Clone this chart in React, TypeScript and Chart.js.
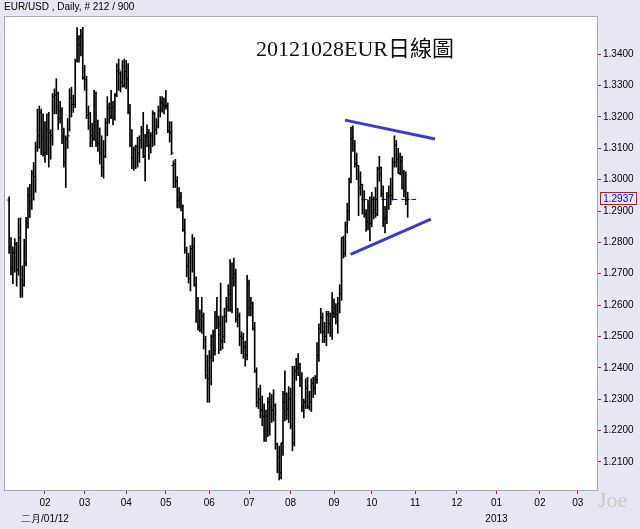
import React, { useEffect, useRef } from 'react';
import { Chart, registerables } from 'chart.js';

Chart.register(...registerables);

// ---- data: EUR/USD daily bars, 5 Jan 2012 .. 26 Oct 2012 (weekday index 0..211) ----
const opens = [
  1.2935,1.2786,1.2717,1.2766,1.2795,1.2712,1.2815,1.2680,1.2665,1.2735,1.2860,1.2950,1.2930,1.3020,1.3010,1.3105,1.3140,1.3215,1.3135,
  1.3085,1.3160,1.3160,1.3150,1.3140,1.3265,1.3270,1.3275,1.3195,1.3220,1.3135,1.3055,1.3130,1.3160,1.3260,1.3240,1.3240,1.3380,1.3450,1.3430,1.3460,
  1.3325,1.3320,1.3205,1.3210,1.3140,1.3130,1.3275,1.3120,1.3115,1.3085,1.3040,1.3075,1.3180,1.3230,1.3200,1.3230,1.3195,1.3270,1.3345,1.3340,1.3310,1.3300,
  1.3345,1.3320,1.3215,1.3110,1.3070,1.3095,1.3105,1.3085,1.3125,1.3160,1.3075,1.3140,1.3150,1.3110,1.3140,1.3210,1.3160,1.3170,1.3220,1.3245,1.3240,
  1.3235,1.3235,1.3155,1.3150,1.3045,1.3050,1.2995,1.2935,1.2945,1.2915,1.2840,1.2775,1.2725,1.2685,1.2780,1.2785,1.2665,1.2580,1.2530,1.2520,1.2565,1.2490,1.2375,
  1.2365,1.2435,1.2500,1.2455,1.2560,1.2560,1.2540,1.2485,1.2500,1.2565,1.2595,1.2635,1.2585,1.2685,1.2700,1.2555,1.2565,1.2500,1.2495,1.2465,1.2440,
  1.2665,1.2590,1.2605,1.2525,1.2390,1.2290,1.2300,1.2265,1.2245,1.2200,1.2245,1.2290,1.2275,1.2265,1.2280,1.2155,1.2115,1.2065,1.2160,1.2290,1.2315,1.2270,
  1.2300,1.2215,1.2160,1.2390,1.2400,1.2410,1.2365,1.2275,1.2290,1.2335,1.2275,1.2290,1.2350,1.2335,1.2360,1.2440,1.2525,1.2560,1.2515,1.2500,1.2570,1.2540,1.2515,
  1.2575,1.2590,1.2570,1.2605,1.2635,1.2815,1.2765,1.2855,1.2900,1.2995,1.3130,1.3115,1.3050,1.3045,1.2975,1.2985,1.2935,1.2890,1.2865,1.2915,
  1.2860,1.2895,1.2905,1.2890,1.3035,1.3020,1.2955,1.2875,1.2880,1.2945,1.2945,1.2950,1.3055,1.3110,1.3065,1.3020,1.3060,1.2975,1.2965,1.2935,
];
const highs = [
  1.2945,1.2815,1.2786,1.2812,1.2800,1.2877,1.2878,1.2725,1.2810,1.2880,1.2975,1.2985,1.3030,1.3055,1.3120,1.3225,1.3235,1.3225,1.3210,
  1.3185,1.3210,1.3215,1.3160,1.3275,1.3290,1.3322,1.3280,1.3250,1.3230,1.3165,1.3140,1.3195,1.3290,1.3295,1.3270,1.3385,1.3485,1.3460,1.3480,1.3486,
  1.3365,1.3330,1.3235,1.3215,1.3180,1.3285,1.3280,1.3190,1.3165,1.3140,1.3125,1.3195,1.3265,1.3245,1.3285,1.3250,1.3275,1.3370,1.3385,1.3345,1.3380,1.3385,
  1.3380,1.3370,1.3240,1.3160,1.3105,1.3110,1.3135,1.3140,1.3170,1.3215,1.3145,1.3175,1.3160,1.3150,1.3220,1.3215,1.3195,1.3235,1.3265,1.3265,1.3260,
  1.3285,1.3245,1.3185,1.3185,1.3060,1.3065,1.3010,1.2975,1.2960,1.2920,1.2875,1.2785,1.2765,1.2790,1.2825,1.2815,1.2690,1.2625,1.2585,1.2625,1.2575,1.2500,1.2440,
  1.2455,1.2505,1.2520,1.2580,1.2625,1.2565,1.2670,1.2565,1.2590,1.2625,1.2665,1.2745,1.2735,1.2750,1.2715,1.2590,1.2575,1.2515,1.2510,1.2485,1.2695,
  1.2680,1.2625,1.2610,1.2545,1.2400,1.2335,1.2345,1.2310,1.2285,1.2265,1.2305,1.2320,1.2315,1.2330,1.2285,1.2160,1.2150,1.2160,1.2325,1.2390,1.2320,1.2340,
  1.2335,1.2405,1.2405,1.2430,1.2445,1.2415,1.2385,1.2300,1.2365,1.2370,1.2325,1.2365,1.2370,1.2375,1.2480,1.2540,1.2590,1.2575,1.2545,1.2580,1.2580,1.2575,1.2640,
  1.2620,1.2605,1.2625,1.2665,1.2815,1.2820,1.2865,1.2925,1.3005,1.3168,1.3172,1.3125,1.3085,1.3045,1.3025,1.2985,1.2965,1.2905,1.2935,1.2945,
  1.2960,1.2945,1.2975,1.3040,1.3075,1.3040,1.2980,1.2915,1.2960,1.2980,1.3005,1.3070,1.3140,1.3125,1.3100,1.3085,1.3075,1.3030,1.3025,1.2960,
];
const lows = [
  1.2765,1.2696,1.2668,1.2705,1.2660,1.2695,1.2624,1.2625,1.2660,1.2725,1.2845,1.2880,1.2905,1.2935,1.2960,1.3090,1.3100,1.3080,1.3075,
  1.3055,1.3080,1.3040,1.3065,1.3110,1.3210,1.3210,1.3160,1.3180,1.3115,1.3040,1.2975,1.3100,1.3155,1.3200,1.3215,1.3230,1.3375,1.3375,1.3395,1.3320,
  1.3285,1.3195,1.3160,1.3105,1.3105,1.3125,1.3105,1.3090,1.3050,1.3010,1.3005,1.3070,1.3140,1.3180,1.3195,1.3175,1.3190,1.3265,1.3285,1.3280,1.3295,1.3295,
  1.3290,1.3210,1.3105,1.3035,1.3030,1.3035,1.3040,1.3055,1.3100,1.3070,1.2995,1.3105,1.3065,1.3085,1.3105,1.3110,1.3145,1.3165,1.3200,1.3215,1.3210,
  1.3225,1.3150,1.3120,1.3080,1.2975,1.2975,1.2910,1.2910,1.2900,1.2835,1.2765,1.2690,1.2670,1.2645,1.2705,1.2660,1.2545,1.2520,1.2515,1.2510,1.2460,1.2365,1.2290,
  1.2290,1.2345,1.2420,1.2440,1.2525,1.2445,1.2455,1.2460,1.2480,1.2545,1.2580,1.2580,1.2575,1.2660,1.2545,1.2530,1.2470,1.2445,1.2430,1.2405,1.2425,
  1.2565,1.2565,1.2520,1.2385,1.2275,1.2270,1.2240,1.2215,1.2165,1.2165,1.2180,1.2185,1.2225,1.2230,1.2140,1.2065,1.2042,1.2045,1.2120,1.2230,1.2235,1.2225,
  1.2205,1.2135,1.2150,1.2360,1.2375,1.2340,1.2260,1.2240,1.2270,1.2270,1.2265,1.2260,1.2305,1.2315,1.2350,1.2420,1.2510,1.2480,1.2480,1.2470,1.2510,1.2500,1.2490,
  1.2560,1.2540,1.2510,1.2575,1.2615,1.2750,1.2755,1.2830,1.2870,1.2990,1.3090,1.3040,1.3000,1.2885,1.2950,1.2890,1.2880,1.2835,1.2840,1.2805,
  1.2850,1.2875,1.2880,1.2885,1.2995,1.2945,1.2850,1.2830,1.2860,1.2905,1.2920,1.2935,1.3040,1.3040,1.3020,1.3015,1.2970,1.2945,1.2920,1.2880,
];
const closes = [
  1.2786,1.2717,1.2766,1.2795,1.2712,1.2815,1.2680,1.2665,1.2735,1.2860,1.2950,1.2930,1.3020,1.3010,1.3105,1.3140,1.3215,1.3135,1.3085,
  1.3160,1.3160,1.3150,1.3140,1.3265,1.3270,1.3275,1.3195,1.3220,1.3135,1.3055,1.3130,1.3140,1.3260,1.3240,1.3240,1.3380,1.3450,1.3430,1.3460,1.3325,
  1.3320,1.3205,1.3210,1.3140,1.3130,1.3275,1.3120,1.3115,1.3085,1.3040,1.3075,1.3180,1.3230,1.3200,1.3230,1.3195,1.3270,1.3345,1.3350,1.3310,1.3300,1.3345,
  1.3320,1.3215,1.3110,1.3070,1.3095,1.3105,1.3085,1.3125,1.3160,1.3075,1.3140,1.3150,1.3110,1.3140,1.3210,1.3160,1.3170,1.3220,1.3245,1.3240,1.3235,
  1.3235,1.3155,1.3150,1.3085,1.3050,1.2995,1.2935,1.2945,1.2915,1.2840,1.2775,1.2725,1.2685,1.2780,1.2785,1.2665,1.2580,1.2530,1.2520,1.2565,1.2490,1.2375,1.2365,
  1.2435,1.2500,1.2455,1.2560,1.2560,1.2505,1.2485,1.2500,1.2565,1.2595,1.2635,1.2585,1.2685,1.2700,1.2555,1.2565,1.2500,1.2495,1.2465,1.2440,1.2665,
  1.2590,1.2605,1.2525,1.2390,1.2290,1.2300,1.2265,1.2245,1.2200,1.2245,1.2290,1.2275,1.2265,1.2280,1.2155,1.2115,1.2065,1.2160,1.2290,1.2315,1.2270,1.2300,
  1.2215,1.2160,1.2390,1.2400,1.2410,1.2365,1.2275,1.2290,1.2335,1.2275,1.2290,1.2350,1.2335,1.2360,1.2440,1.2525,1.2560,1.2515,1.2500,1.2570,1.2540,1.2515,1.2575,
  1.2590,1.2570,1.2605,1.2635,1.2815,1.2765,1.2855,1.2900,1.2995,1.3130,1.3115,1.3050,1.3045,1.2975,1.2985,1.2935,1.2890,1.2865,1.2915,1.2860,
  1.2895,1.2905,1.2890,1.3035,1.3040,1.2955,1.2875,1.2880,1.2945,1.2950,1.2950,1.3055,1.3110,1.3065,1.3020,1.3060,1.2975,1.2965,1.2935,1.2937,
];

// first bar date (weekday index 0)
const firstBarDate = [2012, 1, 5];
// month ticks (first weekday of each month)
const monthStarts = [
  [2012, 2], [2012, 3], [2012, 4], [2012, 5], [2012, 6], [2012, 7], [2012, 8],
  [2012, 9], [2012, 10], [2012, 11], [2012, 12], [2013, 1], [2013, 2], [2013, 3],
];
const monthLabels = ['02', '03', '04', '05', '06', '07', '08', '09', '10', '11', '12', '01', '02', '03'];
const monthSubLabels: Record<number, string> = { 0: '二月/01/12', 11: '2013' };
const yTickValues = [1.21, 1.22, 1.23, 1.24, 1.25, 1.26, 1.27, 1.28, 1.29, 1.30, 1.31, 1.32, 1.33, 1.34];

// trend lines (weekday index, price)
const upperTrendX = [177.8, 225.5];
const upperTrendY = [1.3190, 1.3130];
const lowerTrendX = [180.8, 223.3];
const lowerTrendY = [1.2762, 1.2874];
// current price marker line
const lastPriceLineX = [186.5, 215.5];

const titleText = 'EUR/USD , Daily, # 212 / 900';
const bigTitle = '20121028EUR日線圖';
const watermark = 'Joe';

// ---- helpers ----
function weekdayIndex(y: number, m: number, d: number): number {
  const start = Date.UTC(firstBarDate[0], firstBarDate[1] - 1, firstBarDate[2]);
  const target = Date.UTC(y, m - 1, d);
  let idx = 0;
  for (let t = start; t < target; t += 86400000) {
    const wd = new Date(t).getUTCDay();
    if (wd !== 0 && wd !== 6) idx++;
  }
  return idx;
}
const monthTickIdx = monthStarts.map(([y, m]) => weekdayIndex(y, m, 1));

const FONT = '"Liberation Sans", Arial, sans-serif';
const BG = '#e7e7f3';
const FRAME = '#a6aac8';

export default function App() {
  const ref = useRef<HTMLCanvasElement>(null);

  useEffect(() => {
    document.body.style.margin = '0';
    const canvas = ref.current!;
    const bars = highs.map((h, i) => ({ x: i, y: [lows[i], h] }));
    const openPts = opens.map((v, i) => ({ x: i, y: v }));
    const closePts = closes.map((v, i) => ({ x: i, y: v }));
    const lastClose = closes[closes.length - 1];

    const decor = {
      id: 'decor',
      beforeDraw(chart: any) {
        const { ctx, chartArea: a } = chart;
        ctx.save();
        ctx.fillStyle = BG;
        ctx.fillRect(0, 0, chart.width, chart.height);
        ctx.fillStyle = '#ffffff';
        ctx.fillRect(a.left, a.top, a.right - a.left, a.bottom - a.top);
        ctx.restore();
      },
      afterDraw(chart: any) {
        const { ctx, chartArea: a } = chart;
        ctx.save();
        ctx.strokeStyle = FRAME;
        ctx.lineWidth = 1;
        ctx.strokeRect(a.left - 0.5, a.top - 0.5, a.right - a.left + 1, a.bottom - a.top + 1);

        ctx.fillStyle = '#000';
        ctx.font = `10px ${FONT}`;
        ctx.textAlign = 'left';
        ctx.textBaseline = 'middle';
        ctx.fillText(titleText, 4, 7);

        ctx.font = '22px "Liberation Serif", "Noto Sans CJK TC", serif';
        ctx.textAlign = 'center';
        ctx.textBaseline = 'alphabetic';
        ctx.fillStyle = '#111';
        ctx.fillText(bigTitle, 355, 56);

        ctx.font = '22px "Liberation Serif", serif';
        ctx.textAlign = 'left';
        ctx.fillStyle = '#c8c8c8';
        ctx.fillText(watermark, 598, 507);

        const y = Math.round(chart.scales.y.getPixelForValue(lastClose));
        ctx.strokeStyle = '#ff0000';
        ctx.strokeRect(600.5, y - 6.5, 36, 12);
        ctx.fillStyle = '#0000ff';
        ctx.font = `10px ${FONT}`;
        ctx.textAlign = 'center';
        ctx.textBaseline = 'middle';
        ctx.fillText(lastClose.toFixed(4), 618.5, y);
        ctx.restore();
      },
    };

    const chart = new Chart(canvas, {
      type: 'bar',
      data: {
        datasets: [
          {
            type: 'line',
            data: upperTrendX.map((x, i) => ({ x, y: upperTrendY[i] })),
            borderColor: '#3b3bd2',
            borderWidth: 3,
            pointRadius: 0,
            order: 0,
          } as any,
          {
            type: 'line',
            data: lowerTrendX.map((x, i) => ({ x, y: lowerTrendY[i] })),
            borderColor: '#3b3bd2',
            borderWidth: 3,
            pointRadius: 0,
            order: 0,
          } as any,
          {
            type: 'line',
            data: lastPriceLineX.map((x) => ({ x, y: lastClose })),
            borderColor: '#0000ff',
            borderWidth: 1,
            borderDash: [6, 4],
            pointRadius: 0,
            order: 4,
          } as any,
          {
            type: 'bar',
            data: bars,
            backgroundColor: '#000',
            borderWidth: 0,
            barThickness: 1,
            order: 2,
          } as any,
          {
            type: 'line',
            data: openPts,
            showLine: false,
            pointStyle: 'dash',
            pointRadius: 2,
            pointRotation: 180,
            pointBorderColor: '#000',
            pointBackgroundColor: '#000',
            pointBorderWidth: 1,
            order: 1,
          } as any,
          {
            type: 'line',
            data: closePts,
            showLine: false,
            pointStyle: 'dash',
            pointRadius: 2,
            pointRotation: 0,
            pointBorderColor: '#000',
            pointBackgroundColor: '#000',
            pointBorderWidth: 1,
            order: 1,
          } as any,
        ],
      },
      options: {
        animation: false,
        responsive: false,
        events: [],
        layout: { padding: { left: 5, top: 17, right: 0, bottom: 0 } },
        plugins: { legend: { display: false }, tooltip: { enabled: false } },
        scales: {
          x: {
            type: 'linear',
            min: -2.17,
            max: 311.22,
            offset: false,
            afterBuildTicks: (s: any) => {
              s.ticks = monthTickIdx.map((v) => ({ value: v }));
            },
            afterFit: (s: any) => {
              s.height = 39;
            },
            grid: {
              display: true,
              drawOnChartArea: false,
              drawTicks: true,
              tickLength: 4,
              tickColor: '#ff0000',
              offset: false,
            },
            border: { display: false },
            ticks: {
              autoSkip: false,
              maxRotation: 0,
              minRotation: 0,
              padding: 1,
              color: '#000',
              font: { family: FONT, size: 10, lineHeight: '16px' },
              callback: (_v: any, i: number) =>
                monthSubLabels[i] ? [monthLabels[i], monthSubLabels[i]] : monthLabels[i],
            },
          } as any,
          y: {
            type: 'linear',
            position: 'right',
            min: 1.2010,
            max: 1.3519,
            afterBuildTicks: (s: any) => {
              s.ticks = yTickValues.map((v) => ({ value: v }));
            },
            afterFit: (s: any) => {
              s.width = 43;
            },
            grid: {
              display: true,
              drawOnChartArea: false,
              drawTicks: true,
              tickLength: 4,
              tickColor: '#ff0000',
            },
            border: { display: false },
            ticks: {
              padding: 2,
              color: '#000',
              font: { family: FONT, size: 10 },
              callback: (v: any) => Number(v).toFixed(4),
            },
          } as any,
        },
      },
      plugins: [decor],
    } as any);

    return () => chart.destroy();
  }, []);

  return (
    <div style={{ width: 640, height: 529 }}>
      <canvas ref={ref} width={640} height={529} style={{ display: 'block' }} />
    </div>
  );
}
